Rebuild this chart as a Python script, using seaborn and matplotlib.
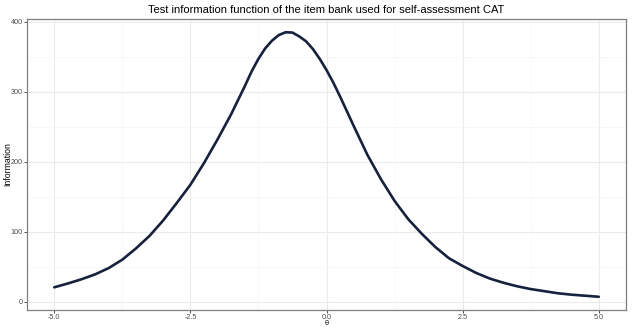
import numpy as np
import pandas as pd
import seaborn as sns
import matplotlib
matplotlib.use("Agg")
import matplotlib.pyplot as plt
from matplotlib.ticker import MultipleLocator, FixedLocator

theta = [-5.0, -4.75, -4.5, -4.25, -4.0, -3.75, -3.5, -3.25, -3.0, -2.75,
         -2.5, -2.25, -2.0, -1.75, -1.5, -1.375, -1.25, -1.125, -1.0, -0.875,
         -0.75, -0.625, -0.5, -0.375, -0.25, -0.125, 0.0, 0.125, 0.25, 0.375,
         0.5, 0.75, 1.0, 1.25, 1.5, 1.75, 2.0, 2.25,
         2.5, 2.75, 3.0, 3.25, 3.5, 3.75, 4.0, 4.25, 4.5, 4.75, 5.0]
information = [20.5, 26, 32, 39, 48, 60, 76, 94, 116, 141,
               167, 198, 232, 268, 308, 329, 347, 362, 373, 381,
               385, 384.5, 379, 372, 361, 347, 331, 313, 293, 272,
               251, 210, 175, 144, 118, 97, 78, 62,
               51, 41, 33, 27, 22, 18, 15, 12, 10, 8.5, 7]
x_ticks = [-5.0, -2.5, 0.0, 2.5, 5.0]
x_tick_labels = ["-5.0", "-2.5", "0.0", "2.5", "5.0"]
y_ticks = [0, 100, 200, 300, 400]

df = pd.DataFrame({"theta": theta, "info": information})

sns.set_theme(style="white")
plt.rcParams["font.family"] = ["Liberation Sans", "DejaVu Sans"]

fig = plt.figure(figsize=(6.34, 3.27), dpi=100)
ax = fig.add_axes([27/634, 1 - 310/327, (626 - 27)/634, (310 - 19)/327])

sns.lineplot(data=df, x="theta", y="info", ax=ax, color="#16213d", linewidth=1.9,
             zorder=3)
for ln in ax.get_lines():
    ln.set_solid_joinstyle("round")
    ln.set_solid_capstyle("round")

xr = max(theta) - min(theta)
ax.set_xlim(min(theta) - 0.05 * xr, max(theta) + 0.05 * xr)
yr = max(information) - min(information)
ax.set_ylim(min(information) - 0.05 * yr, max(information) + 0.05 * yr)

ax.xaxis.set_major_locator(FixedLocator(x_ticks))
ax.set_xticklabels(x_tick_labels)
ax.xaxis.set_minor_locator(MultipleLocator(1.25))
ax.yaxis.set_major_locator(FixedLocator(y_ticks))
ax.yaxis.set_minor_locator(MultipleLocator(50))

ax.grid(True, which="major", color="#ebebeb", linewidth=0.8, zorder=0)
ax.grid(True, which="minor", color="#f5f5f5", linewidth=0.5, zorder=0)
ax.set_axisbelow(True)

for s in ax.spines.values():
    s.set_visible(True)
    s.set_color("#7f7f7f")
    s.set_linewidth(0.9)

ax.tick_params(axis="both", which="major", length=2.2, width=0.6, color="#333333",
               labelsize=5.2, labelcolor="#4d4d4d", pad=0.8, bottom=True, left=True)
ax.tick_params(axis="both", which="minor", length=0)

ax.set_xlabel("θ", fontsize=5.2, color="black")
ax.set_ylabel("Information", fontsize=6.3, color="black")
ax.xaxis.set_label_coords(0.5, -0.034)
ax.yaxis.set_label_coords(-0.0245, 0.5)
ax.set_title("Test information function of the item bank used for self-assessment CAT",
             fontsize=8, pad=4, color="black")

fig.savefig("out.png", dpi=100)
